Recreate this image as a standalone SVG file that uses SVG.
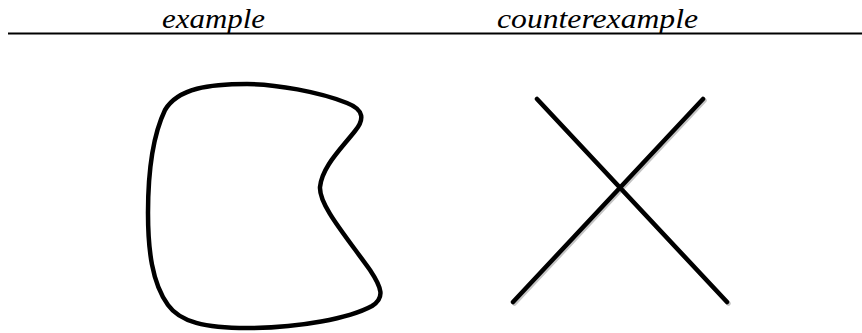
<svg xmlns="http://www.w3.org/2000/svg" width="862" height="333" viewBox="0 0 862 333">
<style>
.lbl{font-family:"Liberation Serif","Times New Roman",serif;font-style:italic;font-size:28px;fill:#000}
.shape{fill:none;stroke:#000;stroke-width:4.5;stroke-linecap:round;stroke-linejoin:round}
.shadow{fill:none;stroke:#c4c4c4;stroke-width:4.5;stroke-linecap:round}
</style>
<rect width="862" height="333" fill="#fff"/>
<g id="header">
<text class="lbl" x="162" y="28" textLength="103" lengthAdjust="spacingAndGlyphs">example</text>
<text class="lbl" x="497" y="28" textLength="201" lengthAdjust="spacingAndGlyphs">counterexample</text>
<line x1="8" y1="33.5" x2="862" y2="33.5" stroke="#000" stroke-width="2"/>
</g>
<g id="example">
<path class="shape" d="M247,84 C275,84 320,92 347,103 C365,110 364,120 355,131 C340,150 322,167 320,187 C319,205 345,235 370,270 C382,288 385,298 372,306 C350,318 300,328 247,328 C205,328 180,322 168,305 C152,283 148,250 148,213 C148,170 153,135 165,110 C178,88 210,84 247,84 Z"/>
</g>
<g id="counterexample">
<line class="shadow" x1="538.5" y1="100.5" x2="728.5" y2="303.5"/>
<line class="shadow" x1="704.5" y1="100.5" x2="514.5" y2="303.5"/>
<line class="shape" x1="537" y1="99" x2="727" y2="302"/>
<line class="shape" x1="703" y1="99" x2="513" y2="302"/>
</g>
</svg>
